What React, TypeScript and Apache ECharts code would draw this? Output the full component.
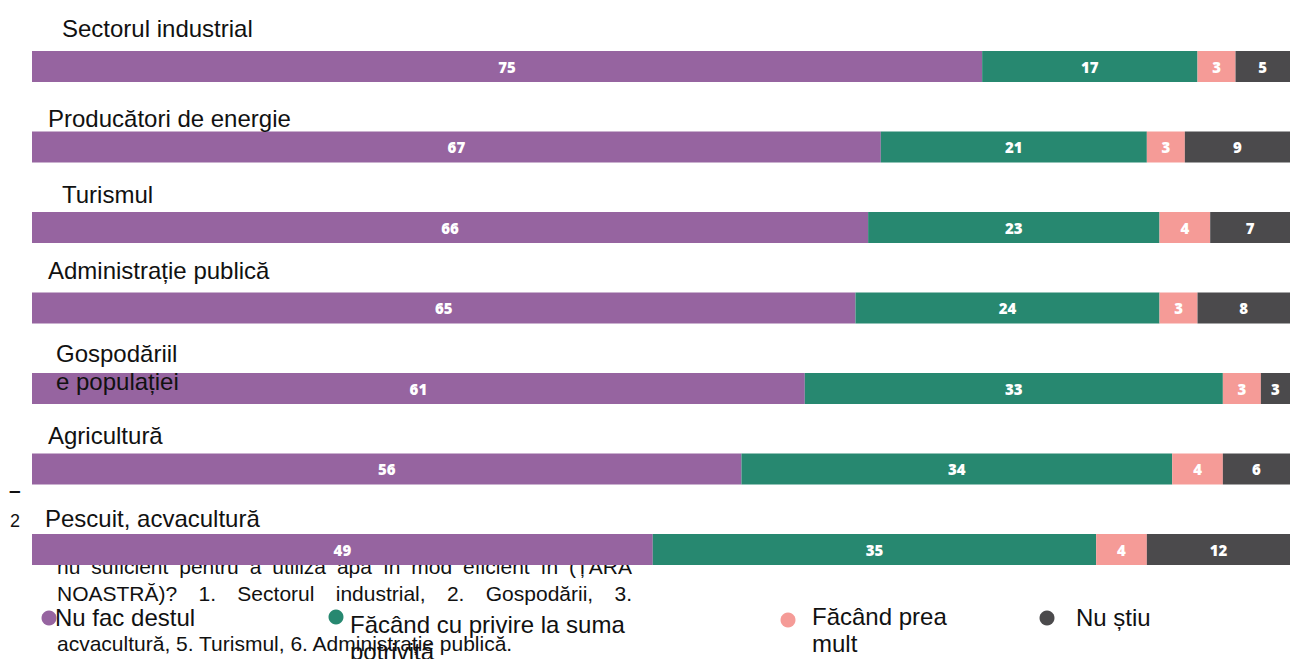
import React, { useEffect, useRef } from "react";
import * as echarts from "echarts";

// ---- data ----
const categories = [
  "Sectorul industrial",
  "Producători de energie",
  "Turismul",
  "Administrație publică",
  "Gospodăriile populației",
  "Agricultură",
  "Pescuit, acvacultură",
];
const categoryLabels = [
  "Sectorul industrial",
  "Producători de energie",
  "Turismul",
  "Administrație publică",
  "Gospodăriil\ne populației",
  "Agricultură",
  "Pescuit, acvacultură",
];
const nuFacDestul = [75, 67, 66, 65, 61, 56, 49];
const facandSumaPotrivita = [17, 21, 23, 24, 33, 34, 35];
const facandPreaMult = [3, 3, 4, 3, 3, 4, 4];
const nuStiu = [5, 9, 7, 8, 3, 6, 12];
const seriesNames = [
  "Nu fac destul",
  "Făcând cu privire la suma potrivită",
  "Făcând prea mult",
  "Nu știu",
];
const legendTexts = [
  "Nu fac destul",
  "Făcând cu privire la suma\npotrivită",
  "Făcând prea\nmult",
  "Nu știu",
];
const questionLine1 = "nu suficient pentru a utiliza apa în mod eficient în (ȚARA";
const questionLine2 = "NOASTRĂ)? 1. Sectorul industrial, 2. Gospodării, 3.";
const questionLine4 = "acvacultură, 5. Turismul, 6. Administrație publică.";

// ---- layout / style (not data) ----
const COLORS = ["#9664A0", "#278870", "#F59B97", "#4B4A4C"];
// the bars run past the right edge of the picture: the visible axis ends at ~99.3
const X_VISIBLE_MAX = 99.3;
const LABEL_POS: [number, number][] = [
  [62, 28],
  [48, 118],
  [62, 194],
  [48, 270],
  [56, 367],
  [48, 435],
  [45, 518],
];
const LEGEND_POS: { cx: number; cy: number; tx: number; ty: number }[] = [
  { cx: 49, cy: 618, tx: 55, ty: 617 },
  { cx: 336, cy: 617, tx: 350, ty: 638 },
  { cx: 788, cy: 620, tx: 812, ty: 630 },
  { cx: 1047, cy: 618, tx: 1076, ty: 617 },
];
const FONT = '"Liberation Sans", Arial, sans-serif';
const Q_FONT_SIZE = 21;

function measure(text: string, size: number): number {
  const c = document.createElement("canvas").getContext("2d");
  if (!c) return text.length * size * 0.5;
  c.font = `${size}px "Liberation Sans", Arial, sans-serif`;
  return c.measureText(text).width;
}

function justified(line: string, x0: number, x1: number, y: number, size: number) {
  const words = line.split(" ");
  const widths = words.map((w) => measure(w, size));
  const total = widths.reduce((a, b) => a + b, 0);
  const gap = words.length > 1 ? (x1 - x0 - total) / (words.length - 1) : 0;
  let x = x0;
  return words.map((w, i) => {
    const el = {
      type: "text",
      x,
      y,
      z: 0,
      style: {
        text: w,
        font: `${size}px ${FONT}`,
        fill: "#111",
        verticalAlign: "middle",
        align: "left",
      },
    };
    x += widths[i] + gap;
    return el;
  });
}

export default function App() {
  const ref = useRef<HTMLDivElement>(null);

  useEffect(() => {
    document.body.style.margin = "0";
    if (!ref.current) return;
    const chart = echarts.init(ref.current, undefined, { renderer: "svg" });

    const dataSets = [nuFacDestul, facandSumaPotrivita, facandPreaMult, nuStiu];

    const graphics: any[] = [];
    // question text (behind bars)
    graphics.push(...justified(questionLine1, 57, 632, 566, Q_FONT_SIZE));
    graphics.push(...justified(questionLine2, 57, 632, 593, Q_FONT_SIZE));
    graphics.push({
      type: "text",
      x: 57,
      y: 643,
      z: 0,
      style: { text: questionLine4, font: `${Q_FONT_SIZE}px ${FONT}`, fill: "#111", verticalAlign: "middle" },
    });
    // stray marks at left
    graphics.push({
      type: "text",
      x: 9,
      y: 489,
      z: 0,
      style: { text: "–", font: `bold 21px ${FONT}`, fill: "#111", verticalAlign: "middle" },
    });
    graphics.push({
      type: "text",
      x: 10,
      y: 521,
      z: 0,
      style: { text: "2", font: `18px ${FONT}`, fill: "#111", verticalAlign: "middle" },
    });
    // category labels (on top)
    categoryLabels.forEach((t, i) => {
      graphics.push({
        type: "text",
        x: LABEL_POS[i][0],
        y: LABEL_POS[i][1],
        z: 10,
        style: {
          text: t,
          font: `24px ${FONT}`,
          fill: "#111",
          verticalAlign: "middle",
          lineHeight: 28,
        },
      });
    });
    // legend
    legendTexts.forEach((t, i) => {
      const p = LEGEND_POS[i];
      graphics.push({
        type: "circle",
        z: 10,
        shape: { cx: p.cx, cy: p.cy, r: 7.5 },
        style: { fill: COLORS[i] },
      });
      graphics.push({
        type: "text",
        x: p.tx,
        y: p.ty,
        z: 11,
        style: {
          text: t,
          font: `24px ${FONT}`,
          fill: "#111",
          verticalAlign: "middle",
          lineHeight: 27,
        },
      });
    });

    chart.setOption({
      animation: false,
      grid: { left: 32, right: 0, top: 26.25, bottom: 69.25, containLabel: false },
      xAxis: { type: "value", min: 0, max: X_VISIBLE_MAX, show: false },
      yAxis: { type: "category", data: categories, inverse: true, show: false },
      series: dataSets.map((d, i) => ({
        name: seriesNames[i],
        type: "bar",
        stack: "total",
        data: d,
        barWidth: 31,
        itemStyle: { color: COLORS[i] },
        label: {
          show: true,
          position: "inside",
          color: "#fff",
          fontFamily: '"Open Sans", sans-serif',
          fontWeight: 800,
          fontSize: 15,
        },
      })),
      graphic: graphics,
    });

    return () => chart.dispose();
  }, []);

  return (
    <div
      ref={ref}
      style={{ position: "fixed", left: 0, top: 0, width: 1290, height: 659, background: "#fff" }}
    />
  );
}
